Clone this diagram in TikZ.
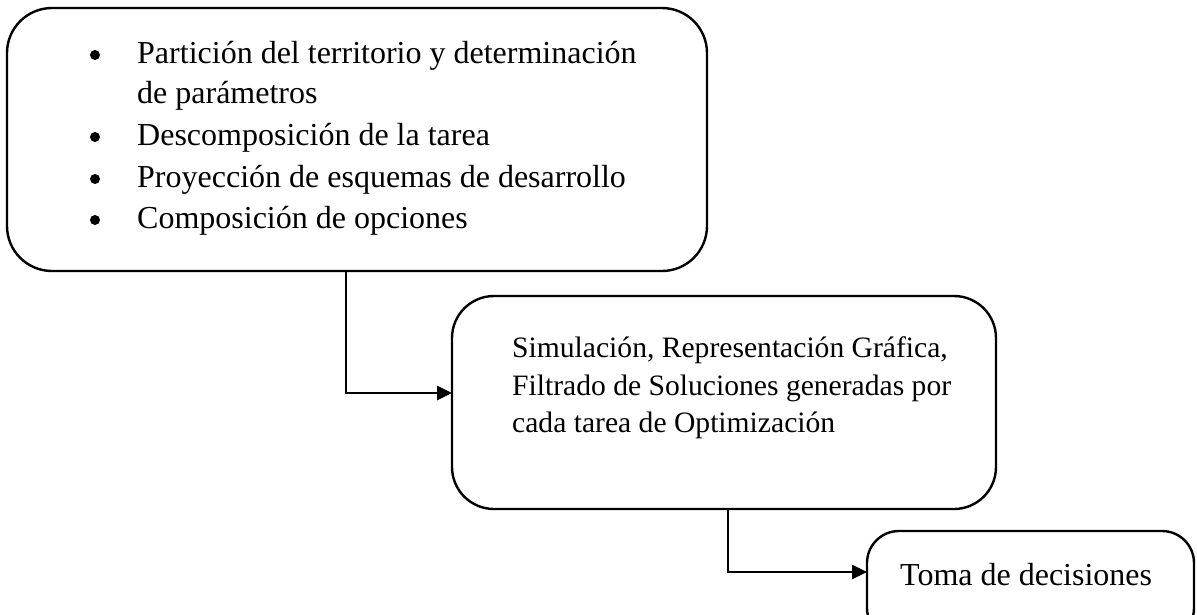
\documentclass[tikz,border=0pt]{standalone}
\usepackage{fontspec}
\setmainfont{Liberation Serif}
\usetikzlibrary{arrows.meta}
\begin{document}
\begin{tikzpicture}[x=1pt,y=-1pt,
  box/.style={draw,line width=2.4pt,rounded corners=#1},
  txt/.style={anchor=base west,inner sep=0pt,font=\fontsize{32}{38}\selectfont},
  txtsm/.style={txt,font=\fontsize{29.6}{35}\selectfont},
  bul/.style={circle,fill,inner sep=0pt,minimum size=10pt},
  conn/.style={line width=2.6pt,-{Triangle[length=15pt,width=14pt]}}]
\useasboundingbox (0,0) rectangle (1197,614);
\clip (0,0) rectangle (1197,614);
% boxes
\draw[box=45pt] (7,8) rectangle (707,271);
\node[coordinate] (b1) at (346,271) {};
\draw[box=42pt] (452,296) rectangle (996,509);
\node[coordinate] (b2in) at (452,393) {};
\node[coordinate] (b2) at (728,509) {};
\draw[box=32pt] (867,531) rectangle (1194,640);
\node[coordinate] (b3in) at (867,572) {};
% text box 1
\node[bul] (u1) at (95,55) {};
\node[txt] (t1) at (137,63) {Partición del territorio y determinación};
\node[txt] (t1b) at (137,103) {de parámetros};
\node[bul] (u2) at (95,137) {};
\node[txt] (t2) at (137,145) {Descomposición de la tarea};
\node[bul] (u3) at (95,179) {};
\node[txt] (t3) at (137,187) {Proyección de esquemas de desarrollo};
\node[bul] (u4) at (95,220) {};
\node[txt] (t4) at (137,228) {Composición de opciones};
% text box 2
\node[txtsm] (s1) at (512,357) {Simulación, Representación Gráfica,};
\node[txtsm] (s2) at (512,395) {Filtrado de Soluciones generadas por};
\node[txtsm] (s3) at (512,432) {cada tarea de Optimización};
% text box 3
\node[txt] (d1) at (900,585) {Toma de decisiones};
% connectors
\draw[conn] (b1) |- (b2in);
\draw[conn] (b2) |- (b3in);
\end{tikzpicture}
\end{document}
